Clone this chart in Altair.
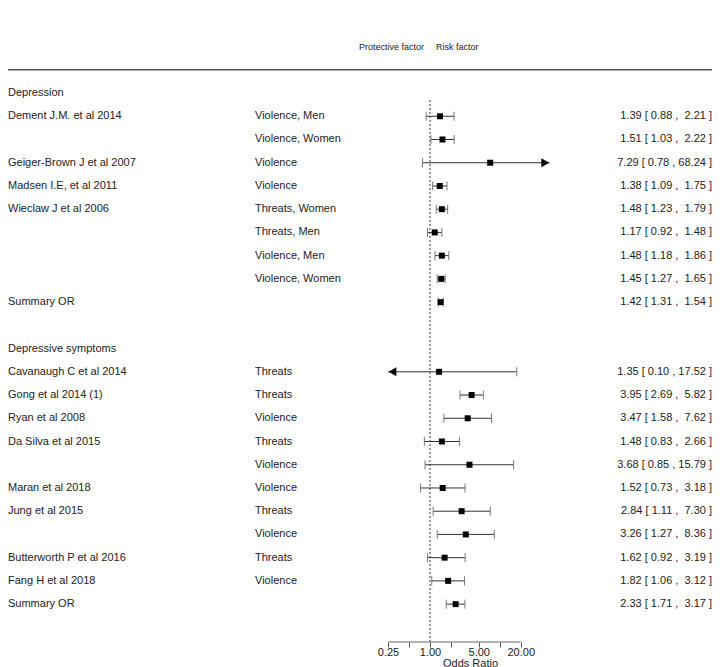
import math
import altair as alt
import pandas as pd

# ---------------- data ----------------
section_titles = ["Depression", "Depressive symptoms"]

dep_studies = ["Dement J.M. et al 2014", "", "Geiger-Brown J et al 2007", "Madsen I.E, et al 2011",
               "Wieclaw J et al 2006", "", "", "", "Summary OR"]
dep_groups = ["Violence, Men", "Violence, Women", "Violence", "Violence",
              "Threats, Women", "Threats, Men", "Violence, Men", "Violence, Women", ""]
dep_or = [1.39, 1.51, 7.29, 1.38, 1.48, 1.17, 1.48, 1.45, 1.42]
dep_lo = [0.88, 1.03, 0.78, 1.09, 1.23, 0.92, 1.18, 1.27, 1.31]
dep_hi = [2.21, 2.22, 68.24, 1.75, 1.79, 1.48, 1.86, 1.65, 1.54]

sym_studies = ["Cavanaugh C et al 2014", "Gong et al 2014 (1)", "Ryan et al 2008", "Da Silva et al 2015", "",
               "Maran et al 2018", "Jung et al 2015", "", "Butterworth P et al 2016", "Fang H et al 2018",
               "Summary OR"]
sym_groups = ["Threats", "Threats", "Violence", "Threats", "Violence", "Violence", "Threats", "Violence",
              "Threats", "Violence", ""]
sym_or = [1.35, 3.95, 3.47, 1.48, 3.68, 1.52, 2.84, 3.26, 1.62, 1.82, 2.33]
sym_lo = [0.10, 2.69, 1.58, 0.83, 0.85, 0.73, 1.11, 1.27, 0.92, 1.06, 1.71]
sym_hi = [17.52, 5.82, 7.62, 2.66, 15.79, 3.18, 7.30, 8.36, 3.19, 3.12, 3.17]

header_left = "Protective factor"
header_right = "Risk factor"
tick_values = [0.25, 0.5, 1, 2, 5, 10, 20]
label_values = [0.25, 1, 5, 20]
axis_title = "Odds Ratio"
clip_lo, clip_hi = 0.25, 52.0

# ---------------- layout ----------------
W, H = 704, 634
FONT = "Liberation Sans"
x_one = 422.0      # pixel of OR = 1 inside plot
ppl = 30.3         # pixels per natural-log unit
xdom = [math.exp(-x_one / ppl), math.exp((W - x_one) / ppl)]
ydom = [-3.66, 23.63]

# ---------------- tables ----------------
rows = []
def add_section(k0, studies, groups, ors, los, his):
    for i, (s, g, o, l, h) in enumerate(zip(studies, groups, ors, los, his)):
        hs = f"{h:.2f}"
        pad = "\u00a0" if len(hs) == 4 else ""
        rows.append(dict(k=k0 + 1 + i, study=s, group=g, est=o, lo=l, hi=h,
                         lo_c=max(l, clip_lo), hi_c=min(h, clip_hi),
                         label=f"{o:.2f} [ {l:.2f} , {pad}{hs} ]"))

add_section(0, dep_studies, dep_groups, dep_or, dep_lo, dep_hi)
add_section(11, sym_studies, sym_groups, sym_or, sym_lo, sym_hi)
df = pd.DataFrame(rows)

caps = []
for r in rows:
    if r["lo"] >= clip_lo:
        caps.append(dict(k=r["k"], xc=r["lo"]))
    if r["hi"] <= clip_hi:
        caps.append(dict(k=r["k"], xc=r["hi"]))
caps_df = pd.DataFrame(caps)
right_arrows = pd.DataFrame([dict(k=r["k"], xa=clip_hi) for r in rows if r["hi"] > clip_hi])
left_arrows = pd.DataFrame([dict(k=r["k"], xa=clip_lo) for r in rows if r["lo"] < clip_lo])

sections_df = pd.DataFrame(dict(k=[0, 11], title=section_titles))
header_df = pd.DataFrame(dict(k=[-2, -2], x=[1, 1], text=[header_left, header_right]))

label_list = ",".join(str(v) for v in label_values)
xaxis = alt.Axis(values=tick_values,
                 labelExpr=f"indexof([{label_list}], datum.value) >= 0 ? format(datum.value, '.2f') : ''",
                 domain=False, grid=False, tickSize=5, tickColor="#555", labelPadding=-1,
                 labelFont=FONT, labelFontSize=11, labelColor="#222", labelFlush=False,
                 labelOverlap=False, title=axis_title, titleFont=FONT, titleFontSize=11,
                 titleFontWeight="normal", titleColor="#222", titleX=462, titleY=15)
xscale = alt.Scale(type="log", domain=xdom, nice=False)
yscale = alt.Scale(domain=ydom, reverse=True, nice=False, zero=False)

def X(f):
    return alt.X(f, type="quantitative", scale=xscale, axis=xaxis)

def Y(f="k"):
    return alt.Y(f, type="quantitative", scale=yscale, axis=None)

ci = alt.Chart(df).mark_rule(color="#333", strokeWidth=1).encode(x=X("lo_c"), x2="hi_c", y=Y())
cap = alt.Chart(caps_df).mark_rule(color="#777", strokeWidth=1, yOffset=-4.5, y2Offset=4.5).encode(
    x=X("xc"), y=Y(), y2="k")
sq = alt.Chart(df).mark_point(shape="square", filled=True, size=36, color="black", opacity=1).encode(
    x=X("est"), y=Y())
ra = alt.Chart(right_arrows).mark_point(shape="triangle-right", filled=True, size=81, color="black",
                                        opacity=1, xOffset=-4.5).encode(x=X("xa"), y=Y())
la = alt.Chart(left_arrows).mark_point(shape="triangle-left", filled=True, size=81, color="black",
                                       opacity=1, xOffset=4.5).encode(x=X("xa"), y=Y())

ref_df = pd.DataFrame(dict(x=[1], k=[0.3], k2=[ydom[1]]))
ref = alt.Chart(ref_df).mark_rule(color="#333", strokeWidth=1, strokeDash=[2, 2]).encode(
    x=X("x"), y=Y("k"), y2="k2")

axl_df = pd.DataFrame(dict(a=[tick_values[0]], b=[tick_values[-1]], k=[ydom[1]]))
axl = alt.Chart(axl_df).mark_rule(color="#666", strokeWidth=1).encode(x=X("a"), x2="b", y=Y())

hl_df = pd.DataFrame(dict(k=[-1]))
hline = alt.Chart(hl_df).mark_rule(color="#555", strokeWidth=1.5).encode(
    x=alt.value(0), x2=alt.value(W), y=Y())

tstyle = dict(font=FONT, fontSize=11, color="#222", baseline="middle")
t_study = alt.Chart(df[df.study != ""]).mark_text(align="left", **tstyle).encode(
    x=alt.value(0), y=Y(), text="study:N")
t_group = alt.Chart(df[df.group != ""]).mark_text(align="left", **tstyle).encode(
    x=alt.value(247), y=Y(), text="group:N")
t_lab = alt.Chart(df).mark_text(align="right", **tstyle).encode(
    x=alt.value(W), y=Y(), text="label:N")
t_sec = alt.Chart(sections_df).mark_text(align="left", **tstyle).encode(
    x=alt.value(0), y=Y(), text="title:N")
hstyle = dict(font=FONT, fontSize=9, color="#222", baseline="middle")
t_hl = alt.Chart(header_df.iloc[[0]]).mark_text(align="right", dx=-6, **hstyle).encode(
    x=X("x"), y=Y(), text="text:N")
t_hr = alt.Chart(header_df.iloc[[1]]).mark_text(align="left", dx=6, **hstyle).encode(
    x=X("x"), y=Y(), text="text:N")

chart = alt.layer(ref, axl, ci, cap, sq, ra, la, hline, t_study, t_group, t_lab, t_sec, t_hl, t_hr).properties(
    width=W, height=H,
    padding={"left": 0, "top": 0, "right": 0, "bottom": 25},
    autosize=alt.AutoSizeParams(type="none"),
).configure_view(stroke=None)

chart.save("out.html", embed_options={"renderer": "svg", "actions": False})
